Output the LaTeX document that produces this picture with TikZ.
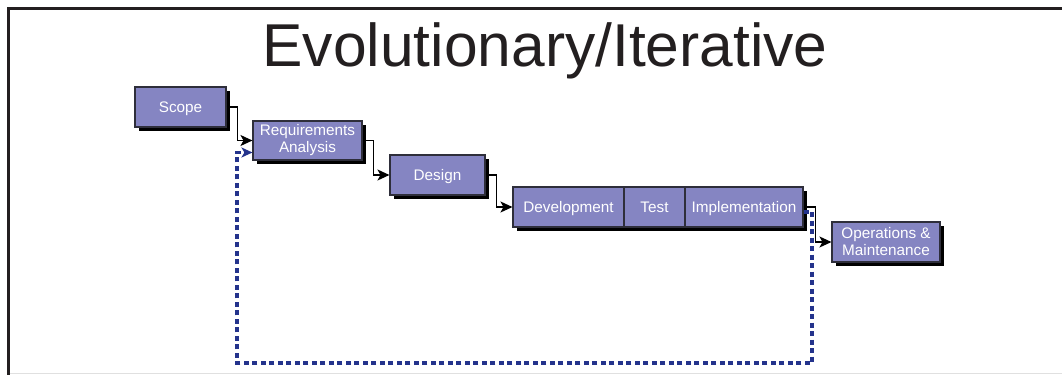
\documentclass[tikz,border=0pt]{standalone}
\usepackage{fontspec}
\setmainfont{Liberation Sans}
\usetikzlibrary{arrows.meta,shadows}

\definecolor{boxfill}{HTML}{8585C2}
\definecolor{boxline}{HTML}{2E2E3A}
\definecolor{fbblue}{HTML}{24338C}
\definecolor{ink}{HTML}{231F20}

\tikzset{
  phase/.style={draw=boxline, line width=1.1pt, fill=boxfill,
    minimum height=40pt, inner sep=0pt, text=white, align=center,
    font=\fontsize{15.3}{17}\selectfont,
    drop shadow={shadow xshift=3.5pt, shadow yshift=-3.5pt, fill=black, opacity=1}},
  oneline/.style={text height=13pt, text depth=3pt},
  conn/.style={draw=black, line width=1.5pt,
    -{Stealth[length=12pt, width=11pt, inset=3pt]}},
  feedback/.style={draw=fbblue, line width=3.2pt, dash pattern=on 5pt off 3.5pt,
    -{Stealth[length=11pt, width=10pt, inset=3pt]}},
}

\begin{document}
\begin{tikzpicture}[x=1pt, y=-1pt]
\useasboundingbox (0,0) rectangle (1062,375);
\fill[white] (0,0) rectangle (1062,375);

% slide frame
\draw[ink, line width=3pt] (7,8.5) -- (1062,8.5);
\draw[ink, line width=3pt] (8.5,7) -- (8.5,375);
\draw[black!12, line width=1pt] (10,373) -- (1062,373);

% title
\node[anchor=base, text=ink, inner sep=0pt, font=\fontsize{60.5}{70}\selectfont]
  (title) at (545,66) {Evolutionary/Iterative};

% phases
\node[phase, oneline, minimum width=91pt]  (scope)  at (180.5,107) {Scope};
\node[phase, minimum width=109pt, minimum height=39pt] (req) at (307.5,140.5) {Requirements\\Analysis};
\node[phase, oneline, minimum width=95pt]  (design) at (437.5,175) {Design};
\node[phase, oneline, minimum width=111pt] (dev)    at (568.5,207) {Development};
\node[phase, oneline, minimum width=61pt]  (test)   at (654.5,207) {Test};
\node[phase, oneline, minimum width=118pt] (impl)   at (744,207)   {Implementation};
\node[phase, minimum width=108pt] (ops)    at (886,242)   {Operations \&\\Maintenance};

% forward flow
\draw[conn] (scope.east)  -- ++(11,0) |- (req.west);
\draw[conn] (req.east)    -- ++(11,0) |- (design.west);
\draw[conn] (design.east) -- ++(11,0) |- (dev.west);
\draw[conn] (impl.east)   -- ++(12,0) |- (ops.west);

% iteration loop back to requirements
\coordinate (loopR) at (812,363);
\coordinate (loopL) at (237,363);
\draw[feedback] ([yshift=-5pt]impl.east) -| (loopR) -- (loopL) |- ([yshift=-12pt]req.west);
\end{tikzpicture}
\end{document}
